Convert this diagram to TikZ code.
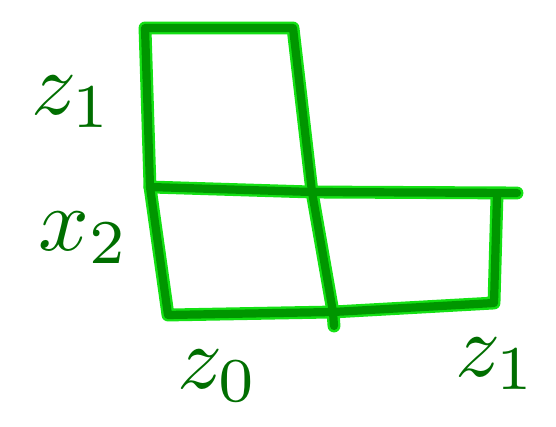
\documentclass[tikz,border=0pt]{standalone}
\usepackage{graphicx}
\usepackage{tikz}
\definecolor{penlight}{RGB}{20,225,20}
\definecolor{pendark}{RGB}{0,150,0}
\definecolor{inkdark}{RGB}{0,110,0}
\newcommand{\handmath}[1]{\scalebox{7.6}{$#1$}}

\begin{document}
\begin{tikzpicture}[
    x=0.03cm, y=-0.03cm,
    glow/.style={draw=penlight, line width=11pt, line cap=round, line join=round},
    pen/.style={draw=pendark, line width=7pt, line cap=round, line join=round},
    handlabel/.style={text=inkdark, inner sep=0pt},
]
\useasboundingbox (0,0) rectangle (556,427);

% corners of the three squares
\coordinate (tl) at (145,28);
\coordinate (tr) at (293,28);
\coordinate (ml) at (150,187);
\coordinate (mc) at (312,192);
\coordinate (mr) at (517,193);
\coordinate (mrr) at (497,195);
\coordinate (bl) at (168,315);
\coordinate (bc) at (333,312);
\coordinate (br) at (494,303);
\coordinate (bt) at (334,326);

\foreach \s in {glow, pen} {
  \draw[\s] (ml) -- (tl) -- (tr) -- (mc);
  \draw[\s] (ml) -- (mc) -- (mr);
  \draw[\s] (ml) -- (bl) -- (bc) -- (br) -- (mrr);
  \draw[\s] (mc) -- (bc) -- (bt);
}

\node[handlabel] (zup) at (72,102) {\handmath{z_1}};
\node[handlabel] (xtwo) at (84,238) {\handmath{x_2}};
\node[handlabel] (zzero) at (218,376) {\handmath{z_0}};
\node[handlabel] (zright) at (496,364) {\handmath{z_1}};

\end{tikzpicture}
\end{document}
